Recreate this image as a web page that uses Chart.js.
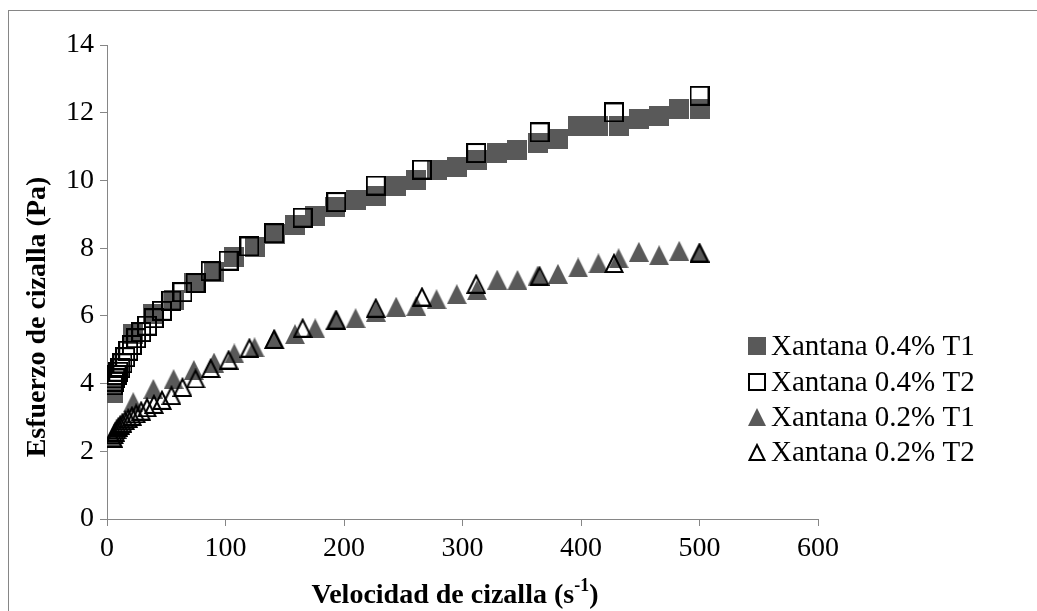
<!DOCTYPE html>
<html>
<head>
<meta charset="utf-8">
<script src="https://cdn.jsdelivr.net/npm/chart.js@4.4.1/dist/chart.umd.min.js"></script>
<style>
  html, body { margin: 0; padding: 0; background: #fff; overflow: hidden; }
  #frame { position: absolute; left: 8px; top: 10px; width: 1200px; height: 800px;
           border-top: 1px solid #868686; border-left: 1px solid #868686; }
  #chart { position: absolute; left: 0; top: 0; display: block; }
</style>
</head>
<body>
<div id="frame"></div>
<canvas id="chart" width="1037" height="611"></canvas>
<script>
// shear rates (1/s): T1 runs use a linear ramp, T2 runs a logarithmic one
const rateT1 = [5, 22.1, 39.1, 56.2, 73.3, 90.3, 107.4, 124.5, 141.6, 158.6, 175.7, 192.8, 209.8, 226.9, 244,
  261, 278.1, 295.2, 312.2, 329.3, 346.4, 363.4, 380.5, 397.6, 414.7, 431.7, 448.8, 465.9, 482.9, 500];
const rateT2 = [5, 5.9, 6.9, 8.1, 9.5, 11.1, 13.0, 15.3, 17.9, 21.0, 24.6, 28.8, 33.8, 39.6, 46.4,
  54.4, 63.7, 74.7, 87.5, 102.6, 120.2, 140.9, 165.1, 193.5, 226.8, 265.8, 311.5, 365.0, 427.8, 500];

// shear stress (Pa)
const xan04T1 = [3.71, 5.45, 6.05, 6.48, 6.96, 7.31, 7.75, 8.04, 8.43, 8.68, 8.95, 9.22, 9.42, 9.54, 9.83,
  10.02, 10.32, 10.41, 10.61, 10.81, 10.91, 11.10, 11.21, 11.61, 11.61, 11.61, 11.80, 11.90, 12.10, 12.10];
const xan04T2 = [3.95, 4.05, 4.15, 4.25, 4.35, 4.45, 4.60, 4.78, 4.97, 5.14, 5.34, 5.52, 5.71, 5.93, 6.15,
  6.45, 6.70, 6.97, 7.32, 7.63, 8.05, 8.44, 8.90, 9.36, 9.85, 10.32, 10.81, 11.42, 12.01, 12.50];
const xan02T1 = [2.40, 3.45, 3.84, 4.13, 4.40, 4.62, 4.89, 5.07, 5.31, 5.46, 5.63, 5.89, 5.93, 6.12, 6.27,
  6.29, 6.49, 6.64, 6.76, 7.07, 7.06, 7.19, 7.24, 7.43, 7.55, 7.70, 7.89, 7.79, 7.92, 7.87];
const xan02T2 = [2.40, 2.50, 2.58, 2.65, 2.72, 2.78, 2.85, 2.92, 2.98, 3.05, 3.12, 3.20, 3.30, 3.40, 3.52,
  3.66, 3.90, 4.15, 4.46, 4.71, 5.06, 5.32, 5.65, 5.89, 6.24, 6.57, 6.95, 7.19, 7.56, 7.87];

const seriesNames = ['Xantana 0.4% T1', 'Xantana 0.4% T2', 'Xantana 0.2% T1', 'Xantana 0.2% T2'];
const xTitle = 'Velocidad de cizalla (s';
const xTitleSup = '-1';
const yTitle = 'Esfuerzo de cizalla (Pa)';

const GREY = '#595959';
const AXIS = '#868686';
const FONT = '"Liberation Serif", "Times New Roman", serif';

// small canvases used as point styles
function makeMarker(shape, filled, size) {
  const c = document.createElement('canvas');
  c.width = size; c.height = size;
  const g = c.getContext('2d');
  const s = size;
  if (shape === 'square') {
    if (filled) {
      g.fillStyle = GREY;
      g.fillRect(0, 0, s, s);
    } else {
      g.strokeStyle = '#000';
      g.lineWidth = 2;
      g.strokeRect(1, 1, s - 2, s - 2);
    }
  } else {
    g.beginPath();
    if (filled) {
      g.moveTo(s / 2, 0); g.lineTo(s, s); g.lineTo(0, s); g.closePath();
      g.fillStyle = GREY; g.fill();
    } else {
      g.moveTo(s / 2, 2); g.lineTo(s - 1.5, s - 1); g.lineTo(1.5, s - 1); g.closePath();
      g.strokeStyle = '#000'; g.lineWidth = 2; g.lineJoin = 'miter'; g.stroke();
    }
  }
  return c;
}

const markers = [
  makeMarker('square', true, 20),
  makeMarker('square', false, 20),
  makeMarker('triangle', true, 20),
  makeMarker('triangle', false, 20)
];
const legendMarkers = [
  makeMarker('square', true, 18),
  makeMarker('square', false, 18),
  makeMarker('triangle', true, 18),
  makeMarker('triangle', false, 18)
];

const toPoints = (xs, ys) => xs.map((x, i) => ({ x: x, y: ys[i] }));

// axis titles and legend are drawn by hand
const overlay = {
  id: 'overlay',
  afterDraw(chart) {
    const ctx = chart.ctx;
    ctx.save();
    ctx.fillStyle = '#000';

    ctx.font = 'bold 28px ' + FONT;
    ctx.textBaseline = 'alphabetic';
    const wMain = ctx.measureText(xTitle).width;
    ctx.font = 'bold 18px ' + FONT;
    const wSup = ctx.measureText(xTitleSup).width;
    ctx.font = 'bold 28px ' + FONT;
    const wTail = ctx.measureText(')').width;
    let x0 = 455 - (wMain + wSup + wTail) / 2;
    ctx.textAlign = 'left';
    ctx.fillText(xTitle, x0, 603);
    ctx.font = 'bold 18px ' + FONT;
    ctx.fillText(xTitleSup, x0 + wMain, 591);
    ctx.font = 'bold 28px ' + FONT;
    ctx.fillText(')', x0 + wMain + wSup, 603);

    ctx.save();
    ctx.translate(38, 317);
    ctx.rotate(-Math.PI / 2);
    ctx.textAlign = 'center';
    ctx.textBaseline = 'middle';
    ctx.fillText(yTitle, 0, 0);
    ctx.restore();

    ctx.font = '29px ' + FONT;
    ctx.textAlign = 'left';
    ctx.textBaseline = 'middle';
    const rowY = [346, 382, 417, 452];
    seriesNames.forEach((name, i) => {
      const m = legendMarkers[i];
      ctx.drawImage(m, 757 - m.width / 2, rowY[i] - m.height / 2);
      ctx.fillText(name, 771, rowY[i] + 1);
    });
    ctx.restore();
  }
};

new Chart(document.getElementById('chart'), {
  type: 'scatter',
  data: {
    datasets: [
      { label: seriesNames[0], data: toPoints(rateT1, xan04T1), pointStyle: markers[0], pointRadius: 10, order: 2 },
      { label: seriesNames[1], data: toPoints(rateT2, xan04T2), pointStyle: markers[1], pointRadius: 10, order: 1 },
      { label: seriesNames[2], data: toPoints(rateT1, xan02T1), pointStyle: markers[2], pointRadius: 10, order: 2 },
      { label: seriesNames[3], data: toPoints(rateT2, xan02T2), pointStyle: markers[3], pointRadius: 10, order: 1 }
    ]
  },
  options: {
    responsive: false,
    animation: false,
    layout: { padding: { top: 45, right: 219, left: 0, bottom: 0 } },
    plugins: {
      legend: { display: false },
      tooltip: { enabled: false }
    },
    scales: {
      x: {
        type: 'linear',
        min: 0, max: 600,
        ticks: { stepSize: 100, color: '#000', padding: 6, font: { family: FONT, size: 28 } },
        grid: { drawOnChartArea: false, drawTicks: true, tickLength: 7, tickColor: AXIS },
        border: { display: true, color: AXIS, width: 1 },
        afterFit(scale) { scale.height = 92; }
      },
      y: {
        type: 'linear',
        min: 0, max: 14,
        ticks: { stepSize: 2, color: '#000', padding: 6, font: { family: FONT, size: 28 } },
        grid: { drawOnChartArea: false, drawTicks: true, tickLength: 7, tickColor: AXIS },
        border: { display: true, color: AXIS, width: 1 },
        afterFit(scale) { scale.width = 107; }
      }
    }
  },
  plugins: [overlay]
});
</script>
</body>
</html>
